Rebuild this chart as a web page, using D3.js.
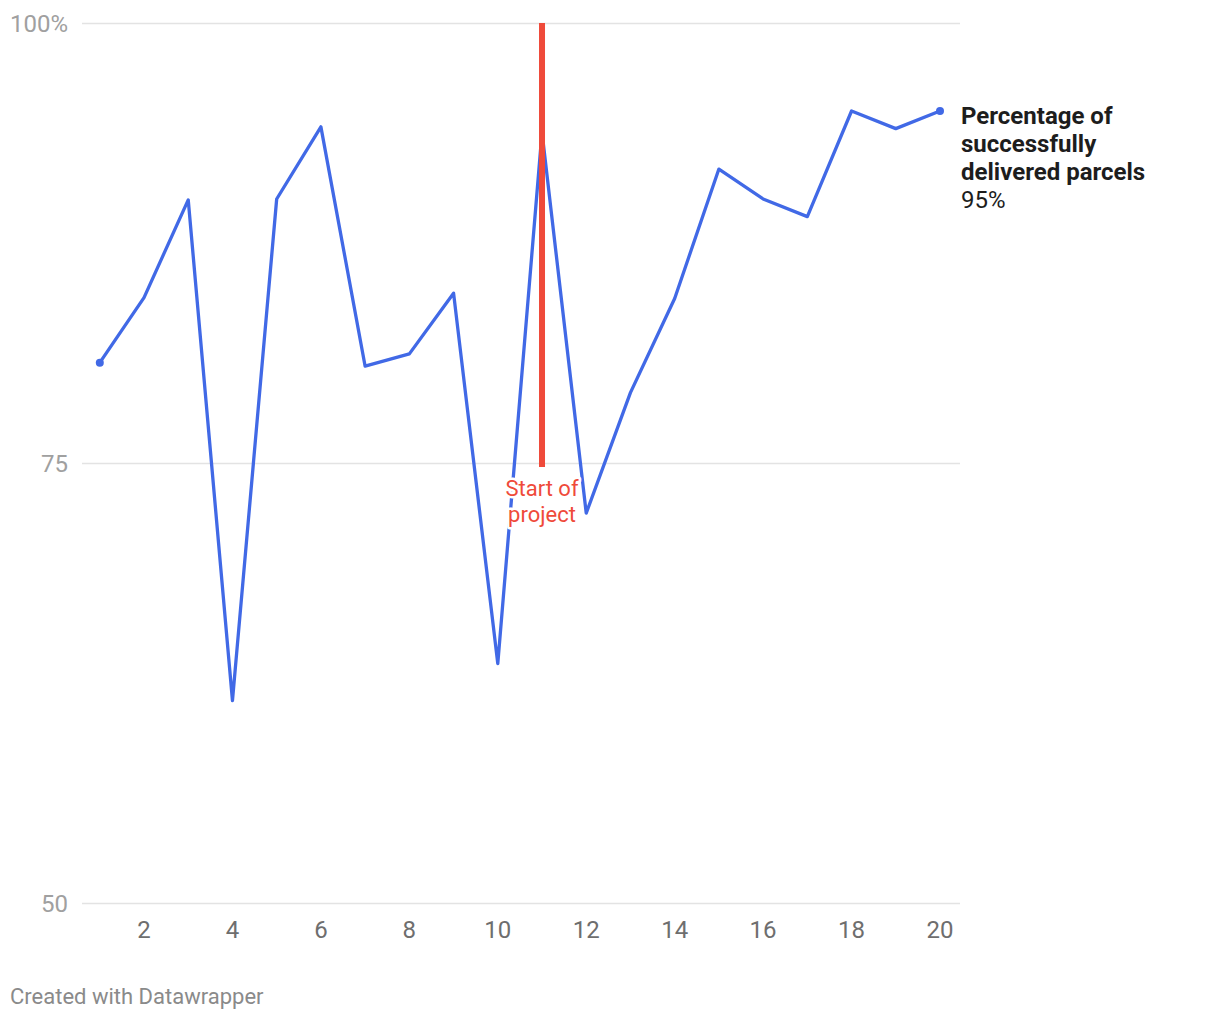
<!DOCTYPE html>
<html><head><meta charset="utf-8">
<script src="https://cdn.jsdelivr.net/npm/d3@7"></script>
<style>body{margin:0;background:#fff;font-family:Roboto,sans-serif;}</style>
</head><body>
<svg id="c" width="1220" height="1020"></svg>
<script>
const xValues = [1,2,3,4,5,6,7,8,9,10,11,12,13,14,15,16,17,18,19,20];
const yValues = [80.7,84.4,89.95,61.5,90.0,94.1,80.5,81.2,84.65,63.6,93.8,72.15,79.0,84.35,91.7,90.0,89.0,95.0,94.0,95.0];
const yTicks = [50,75,100];
const xTicks = [2,4,6,8,10,12,14,16,18,20];
const seriesLabel = ["Percentage of","successfully","delivered parcels"];
const lastValueLabel = "95%";
const annotationX = 11;
const annotationLines = ["Start of","project"];

const svg = d3.select("#c");
const x = d3.scaleLinear().domain([1,20]).range([99.8,940]);
const y = d3.scaleLinear().domain([50,100]).range([903,23]);

// grid
svg.append("g").selectAll("line").data(yTicks).join("line")
  .attr("x1",82).attr("x2",960).attr("y1",d=>y(d)+0.5).attr("y2",d=>y(d)+0.5)
  .attr("stroke","#e3e3e3").attr("stroke-width",1.5);
svg.append("g").selectAll("text").data(yTicks).join("text")
  .attr("x",68).attr("y",d=>y(d)+1).attr("dy","0.35em").attr("text-anchor","end")
  .attr("fill","#a0a0a0").attr("font-size",24)
  .text(d=>d===100?"100%":d);

// x axis labels
svg.append("g").selectAll("text").data(xTicks).join("text")
  .attr("x",d=>x(d)).attr("y",930).attr("dy","0.35em").attr("text-anchor","middle")
  .attr("fill","#6e6e6e").attr("font-size",24).text(d=>d);

const blue = "#4169e6";
const data = xValues.map((v,i)=>({x:v,y:yValues[i]}));
const line = d3.line().x(d=>x(d.x)).y(d=>y(d.y));
svg.append("path").datum(data).attr("d",line).attr("fill","none")
  .attr("stroke",blue).attr("stroke-width",3.3).attr("stroke-linejoin","round");
svg.selectAll("circle.end").data([data[0],data[data.length-1]]).join("circle")
  .attr("cx",d=>x(d.x)).attr("cy",d=>y(d.y)).attr("r",4).attr("fill",blue);

// annotation
const red = "#ef4a3a";
svg.append("line").attr("x1",x(annotationX)).attr("x2",x(annotationX))
  .attr("y1",y(100)).attr("y2",467).attr("stroke",red).attr("stroke-width",6);
const at = svg.append("text").attr("text-anchor","middle").attr("font-size",22)
  .attr("fill",red).attr("stroke","#fff").attr("stroke-width",5)
  .attr("paint-order","stroke").attr("stroke-linejoin","round");
annotationLines.forEach((t,i)=>at.append("tspan").attr("x",x(annotationX)).attr("y",496+i*26).text(t));

// series label
const lt = svg.append("text").attr("font-size",24).attr("fill","#1d1d1d");
seriesLabel.forEach((t,i)=>lt.append("tspan").attr("x",961).attr("y",124+i*28).attr("font-weight","bold").text(t));
lt.append("tspan").attr("x",961).attr("y",124+3*28).text(lastValueLabel);

svg.append("text").attr("x",10).attr("y",1004).attr("font-size",22).attr("fill","#8a8a8a")
  .text("Created with Datawrapper");
</script>
</body></html>
